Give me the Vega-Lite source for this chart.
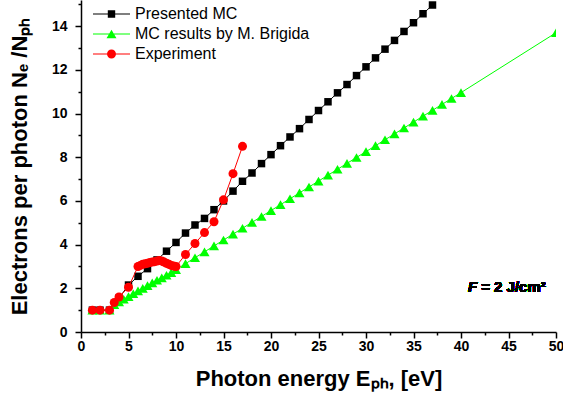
{
  "$schema": "https://vega.github.io/schema/vega-lite/v6.json",
  "width": 475,
  "height": 332,
  "autosize": {"type": "none"},
  "padding": {"left": 81, "top": 0, "right": 7, "bottom": 70},
  "background": "#ffffff",
  "config": {"view": {"stroke": null}, "font": "Liberation Sans"},
  "datasets": {
    "electrons": [
      {"series": "Presented MC", "E": 1.2, "N": 1.0},
      {"series": "Presented MC", "E": 2, "N": 1.0},
      {"series": "Presented MC", "E": 3, "N": 1.0},
      {"series": "Presented MC", "E": 4, "N": 1.55},
      {"series": "Presented MC", "E": 5, "N": 2.15},
      {"series": "Presented MC", "E": 6, "N": 2.55},
      {"series": "Presented MC", "E": 7, "N": 2.9},
      {"series": "Presented MC", "E": 8, "N": 3.3},
      {"series": "Presented MC", "E": 9, "N": 3.7},
      {"series": "Presented MC", "E": 10, "N": 4.1},
      {"series": "Presented MC", "E": 11, "N": 4.53},
      {"series": "Presented MC", "E": 12, "N": 4.9},
      {"series": "Presented MC", "E": 13, "N": 5.2},
      {"series": "Presented MC", "E": 14, "N": 5.6},
      {"series": "Presented MC", "E": 15, "N": 6.0},
      {"series": "Presented MC", "E": 16, "N": 6.45},
      {"series": "Presented MC", "E": 17, "N": 6.9},
      {"series": "Presented MC", "E": 18, "N": 7.28},
      {"series": "Presented MC", "E": 19, "N": 7.71},
      {"series": "Presented MC", "E": 20, "N": 8.12},
      {"series": "Presented MC", "E": 21, "N": 8.53},
      {"series": "Presented MC", "E": 22, "N": 8.93},
      {"series": "Presented MC", "E": 23, "N": 9.31},
      {"series": "Presented MC", "E": 24, "N": 9.73},
      {"series": "Presented MC", "E": 25, "N": 10.14},
      {"series": "Presented MC", "E": 26, "N": 10.54},
      {"series": "Presented MC", "E": 27, "N": 10.95},
      {"series": "Presented MC", "E": 28, "N": 11.33},
      {"series": "Presented MC", "E": 29, "N": 11.74},
      {"series": "Presented MC", "E": 30, "N": 12.14},
      {"series": "Presented MC", "E": 31, "N": 12.55},
      {"series": "Presented MC", "E": 32, "N": 12.95},
      {"series": "Presented MC", "E": 33, "N": 13.35},
      {"series": "Presented MC", "E": 34, "N": 13.76},
      {"series": "Presented MC", "E": 35, "N": 14.16},
      {"series": "Presented MC", "E": 36, "N": 14.57},
      {"series": "Presented MC", "E": 37, "N": 14.97},
      {"series": "MC results by M. Brigida", "E": 1.2, "N": 1.0},
      {"series": "MC results by M. Brigida", "E": 2, "N": 1.0},
      {"series": "MC results by M. Brigida", "E": 3, "N": 1.0},
      {"series": "MC results by M. Brigida", "E": 3.5, "N": 1.25},
      {"series": "MC results by M. Brigida", "E": 4, "N": 1.38},
      {"series": "MC results by M. Brigida", "E": 4.5, "N": 1.5},
      {"series": "MC results by M. Brigida", "E": 5, "N": 1.62},
      {"series": "MC results by M. Brigida", "E": 5.5, "N": 1.75},
      {"series": "MC results by M. Brigida", "E": 6, "N": 1.88},
      {"series": "MC results by M. Brigida", "E": 6.5, "N": 2.0},
      {"series": "MC results by M. Brigida", "E": 7, "N": 2.12},
      {"series": "MC results by M. Brigida", "E": 7.5, "N": 2.25},
      {"series": "MC results by M. Brigida", "E": 8, "N": 2.37},
      {"series": "MC results by M. Brigida", "E": 8.5, "N": 2.48},
      {"series": "MC results by M. Brigida", "E": 9, "N": 2.6},
      {"series": "MC results by M. Brigida", "E": 9.5, "N": 2.72},
      {"series": "MC results by M. Brigida", "E": 10, "N": 2.85},
      {"series": "MC results by M. Brigida", "E": 11, "N": 3.13},
      {"series": "MC results by M. Brigida", "E": 12, "N": 3.4},
      {"series": "MC results by M. Brigida", "E": 13, "N": 3.67},
      {"series": "MC results by M. Brigida", "E": 14, "N": 3.94},
      {"series": "MC results by M. Brigida", "E": 15, "N": 4.21},
      {"series": "MC results by M. Brigida", "E": 16, "N": 4.48},
      {"series": "MC results by M. Brigida", "E": 17, "N": 4.75},
      {"series": "MC results by M. Brigida", "E": 18, "N": 5.02},
      {"series": "MC results by M. Brigida", "E": 19, "N": 5.29},
      {"series": "MC results by M. Brigida", "E": 20, "N": 5.56},
      {"series": "MC results by M. Brigida", "E": 21, "N": 5.83},
      {"series": "MC results by M. Brigida", "E": 22, "N": 6.1},
      {"series": "MC results by M. Brigida", "E": 23, "N": 6.37},
      {"series": "MC results by M. Brigida", "E": 24, "N": 6.64},
      {"series": "MC results by M. Brigida", "E": 25, "N": 6.91},
      {"series": "MC results by M. Brigida", "E": 26, "N": 7.18},
      {"series": "MC results by M. Brigida", "E": 27, "N": 7.45},
      {"series": "MC results by M. Brigida", "E": 28, "N": 7.72},
      {"series": "MC results by M. Brigida", "E": 29, "N": 7.99},
      {"series": "MC results by M. Brigida", "E": 30, "N": 8.26},
      {"series": "MC results by M. Brigida", "E": 31, "N": 8.53},
      {"series": "MC results by M. Brigida", "E": 32, "N": 8.8},
      {"series": "MC results by M. Brigida", "E": 33, "N": 9.07},
      {"series": "MC results by M. Brigida", "E": 34, "N": 9.34},
      {"series": "MC results by M. Brigida", "E": 35, "N": 9.61},
      {"series": "MC results by M. Brigida", "E": 36, "N": 9.88},
      {"series": "MC results by M. Brigida", "E": 37, "N": 10.15},
      {"series": "MC results by M. Brigida", "E": 38, "N": 10.42},
      {"series": "MC results by M. Brigida", "E": 39, "N": 10.69},
      {"series": "MC results by M. Brigida", "E": 40, "N": 10.96},
      {"series": "MC results by M. Brigida", "E": 50, "N": 13.7},
      {"series": "Experiment", "E": 1.2, "N": 1.0},
      {"series": "Experiment", "E": 2, "N": 1.0},
      {"series": "Experiment", "E": 3, "N": 1.0},
      {"series": "Experiment", "E": 3.5, "N": 1.35},
      {"series": "Experiment", "E": 4, "N": 1.6},
      {"series": "Experiment", "E": 5, "N": 2.05},
      {"series": "Experiment", "E": 6, "N": 3.0},
      {"series": "Experiment", "E": 6.25, "N": 3.05},
      {"series": "Experiment", "E": 6.5, "N": 3.1},
      {"series": "Experiment", "E": 6.75, "N": 3.12},
      {"series": "Experiment", "E": 7, "N": 3.15},
      {"series": "Experiment", "E": 7.25, "N": 3.18},
      {"series": "Experiment", "E": 7.5, "N": 3.2},
      {"series": "Experiment", "E": 7.75, "N": 3.22},
      {"series": "Experiment", "E": 8, "N": 3.25},
      {"series": "Experiment", "E": 8.25, "N": 3.27},
      {"series": "Experiment", "E": 8.5, "N": 3.25},
      {"series": "Experiment", "E": 8.75, "N": 3.2},
      {"series": "Experiment", "E": 9, "N": 3.15},
      {"series": "Experiment", "E": 9.25, "N": 3.1},
      {"series": "Experiment", "E": 9.5, "N": 3.05},
      {"series": "Experiment", "E": 9.75, "N": 3.02},
      {"series": "Experiment", "E": 10, "N": 3.0},
      {"series": "Experiment", "E": 11, "N": 3.55},
      {"series": "Experiment", "E": 12, "N": 4.05},
      {"series": "Experiment", "E": 13, "N": 4.55},
      {"series": "Experiment", "E": 14, "N": 5.05},
      {"series": "Experiment", "E": 15, "N": 6.05},
      {"series": "Experiment", "E": 16, "N": 7.25},
      {"series": "Experiment", "E": 17, "N": 8.5}
    ]
  },
  "data": {"name": "electrons"},
  "encoding": {
    "x": {
      "field": "E",
      "type": "quantitative",
      "scale": {"domain": [0, 50], "nice": false},
      "axis": {
        "title": "Photon energy Eₚₕ, [eV]",
        "values": [0, 2.5, 5, 7.5, 10, 12.5, 15, 17.5, 20, 22.5, 25, 27.5, 30, 32.5, 35, 37.5, 40, 42.5, 45, 47.5, 50],
        "labelExpr": "datum.value % 5 === 0 ? datum.label : ''",
        "tickSize": {"condition": {"test": "datum.value % 5 === 0", "value": 6}, "value": 3},
        "grid": false,
        "domainColor": "#000000",
        "domainWidth": 1.5,
        "tickColor": "#000000",
        "tickWidth": 1.5,
        "labelFont": "Liberation Sans",
        "labelFontSize": 14,
        "labelFontWeight": "bold",
        "labelColor": "#000000",
        "labelPadding": 1,
        "labelFlush": false,
        "labelOverlap": false,
        "titleFont": "Liberation Sans",
        "titleFontSize": 22,
        "titleFontWeight": "bold",
        "titleColor": "#000000",
        "titlePadding": 15
      }
    },
    "y": {
      "field": "N",
      "type": "quantitative",
      "scale": {"domain": [0, 15.2], "nice": false},
      "axis": {
        "title": "Electrons per photon Nₑ /Nₚₕ",
        "values": [0, 1, 2, 3, 4, 5, 6, 7, 8, 9, 10, 11, 12, 13, 14, 15],
        "labelExpr": "datum.value % 2 === 0 ? datum.label : ''",
        "tickSize": {"condition": {"test": "datum.value % 2 === 0", "value": 6}, "value": 3},
        "grid": false,
        "domainColor": "#000000",
        "domainWidth": 1.5,
        "tickColor": "#000000",
        "tickWidth": 1.5,
        "labelFont": "Liberation Sans",
        "labelFontSize": 14,
        "labelFontWeight": "bold",
        "labelColor": "#000000",
        "labelPadding": 8,
        "labelOverlap": false,
        "titleFont": "Liberation Sans",
        "titleFontSize": 22,
        "titleFontWeight": "bold",
        "titleColor": "#000000",
        "titlePadding": 20
      }
    }
  },
  "layer": [
    {
      "transform": [{"filter": "datum.series === 'Presented MC'"}],
      "mark": {"type": "line", "color": "#000000", "strokeWidth": 1, "clip": true}
    },
    {
      "transform": [{"filter": "datum.series === 'Presented MC'"}],
      "mark": {"type": "point", "shape": "square", "filled": true, "color": "#000000", "opacity": 1, "size": 56, "clip": true}
    },
    {
      "transform": [{"filter": "datum.series === 'MC results by M. Brigida'"}],
      "mark": {"type": "line", "color": "#00ff00", "strokeWidth": 1, "clip": true}
    },
    {
      "transform": [{"filter": "datum.series === 'MC results by M. Brigida'"}],
      "mark": {"type": "point", "shape": "triangle-up", "filled": true, "color": "#00ff00", "opacity": 1, "size": 100, "clip": true}
    },
    {
      "transform": [{"filter": "datum.series === 'Experiment'"}],
      "mark": {"type": "line", "color": "#ff0000", "strokeWidth": 1, "clip": true}
    },
    {
      "transform": [{"filter": "datum.series === 'Experiment'"}],
      "mark": {"type": "point", "shape": "circle", "filled": true, "color": "#ff0000", "opacity": 1, "size": 81, "clip": true}
    },
    {
      "mark": {"type": "point", "filled": true, "opacity": 0},
      "encoding": {
        "color": {
          "field": "series",
          "type": "nominal",
          "scale": {
            "domain": ["Presented MC", "MC results by M. Brigida", "Experiment"],
            "range": ["#000000", "#00ff00", "#ff0000"]
          },
          "legend": {
            "title": null,
            "orient": "none",
            "legendX": 12,
            "legendY": 7,
            "padding": 0,
            "symbolSize": 1369,
            "symbolStrokeWidth": 0,
            "symbolOpacity": 1,
            "clipHeight": 14,
            "rowPadding": 4,
            "labelOffset": 5,
            "labelFont": "Liberation Sans",
            "labelFontSize": 16,
            "labelColor": "#000000",
            "labelLimit": 0
          }
        },
        "shape": {
          "field": "series",
          "type": "nominal",
          "scale": {
            "domain": ["Presented MC", "MC results by M. Brigida", "Experiment"],
            "range": [
              "M-1,-0.027H1V0.027H-1ZM-0.2,-0.2H0.2V0.2H-0.2Z",
              "M-1,-0.027H1V0.027H-1ZM0,-0.234L0.27,0.234H-0.27Z",
              "M-1,-0.027H1V0.027H-1ZM0.243,0A0.243,0.243,0,1,1,-0.243,0A0.243,0.243,0,1,1,0.243,0Z"
            ]
          },
          "legend": {
            "title": null,
            "orient": "none",
            "legendX": 12,
            "legendY": 7,
            "padding": 0,
            "symbolSize": 1369,
            "symbolStrokeWidth": 0,
            "symbolOpacity": 1,
            "clipHeight": 14,
            "rowPadding": 4,
            "labelOffset": 5,
            "labelFont": "Liberation Sans",
            "labelFontSize": 16,
            "labelColor": "#000000",
            "labelLimit": 0
          }
        }
      }
    },
    {
      "mark": {"type": "text", "text": "F", "font": "Liberation Sans", "fontSize": 15, "fontWeight": "bold", "fontStyle": "italic", "align": "right", "baseline": "alphabetic", "color": "#000000"},
      "encoding": {
        "x": {"datum": 41.7, "type": "quantitative"},
        "y": {"datum": 1.85, "type": "quantitative"}
      }
    },
    {
      "mark": {"type": "text", "text": "= 2 J/cm²", "font": "Liberation Sans", "fontSize": 15, "fontWeight": "bold", "align": "left", "baseline": "alphabetic", "dx": 4, "color": "#000000"},
      "encoding": {
        "x": {"datum": 41.7, "type": "quantitative"},
        "y": {"datum": 1.85, "type": "quantitative"}
      }
    }
  ]
}
